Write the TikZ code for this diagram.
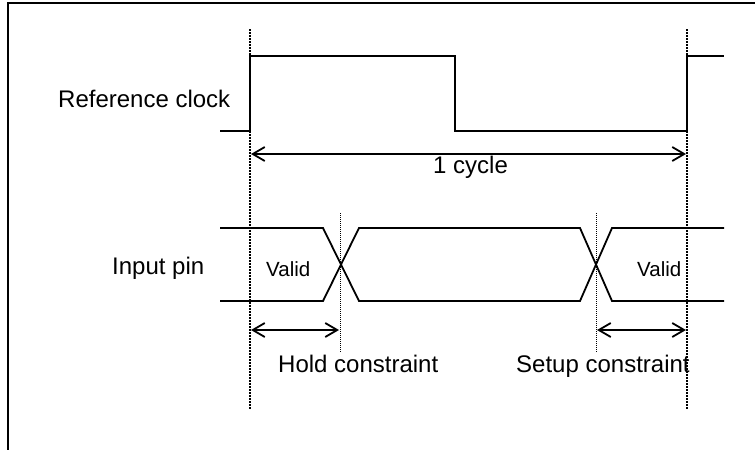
\documentclass[tikz,border=0pt]{standalone}
\usepackage{fontspec}
\setmainfont{Liberation Sans}
\usetikzlibrary{arrows.meta}
\begin{document}
\begin{tikzpicture}[x=1pt,y=-1pt,
  wave/.style={line width=1.8pt, line join=miter},
  frame/.style={line width=2pt},
  edge/.style={line width=1.9pt, dash pattern=on 1.5pt off 1.5pt},
  guide/.style={line width=1pt, dash pattern=on 1pt off 1pt},
  span/.style={line width=1.8pt, {Straight Barb[length=12pt,width=14pt,line width=1.8pt]}-{Straight Barb[length=12pt,width=14pt,line width=1.8pt]}},
  lbl/.style={inner sep=0pt, anchor=base west, font=\fontsize{24}{28}\selectfont},
  small/.style={inner sep=0pt, anchor=base west, font=\fontsize{20.5}{24}\selectfont}]
\useasboundingbox (0,0) rectangle (755,450);

% frame
\draw[frame] (755,3) -- (8,3) -- (8,450);

% clock edges (thick dotted) and transition guides (thin dotted)
\coordinate (e1t) at (250,29);  \coordinate (e1b) at (250,410);
\coordinate (e2t) at (687,29);  \coordinate (e2b) at (687,410);
\coordinate (g1t) at (340,213); \coordinate (g1b) at (340,352);
\coordinate (g2t) at (596,213); \coordinate (g2b) at (596,352);
\draw[edge] (e1t) -- (e1b);
\draw[edge] (e2t) -- (e2b);
\draw[guide] (g1t) -- (g1b);
\draw[guide] (g2t) -- (g2b);

% reference clock waveform
\draw[wave] (220,131) -- (250,131) -- (250,56) -- (455,56) -- (455,131)
  -- (687,131) -- (687,56) -- (724,56);
\node[lbl] (refclk) at (58,107) {Reference clock};

% one cycle span
\coordinate (c1) at (251,154);
\coordinate (c2) at (686,154);
\draw[span] (c1) -- (c2);
\node[lbl] (cyc) at (433,173) {1 cycle};

% input pin data eye
\draw[wave] (220,228) -- (323,228) -- (359,301) -- (580,301) -- (612,228) -- (724,228);
\draw[wave] (220,301) -- (323,301) -- (359,228) -- (580,228) -- (612,301) -- (724,301);
\node[lbl] (inpin) at (112,274) {Input pin};
\node[small] (v1) at (266,276) {Valid};
\node[small] (v2) at (637,276) {Valid};

% hold and setup spans
\coordinate (h1) at (251,330); \coordinate (h2) at (339,330);
\coordinate (s1) at (597,330); \coordinate (s2) at (686,330);
\draw[span] (h1) -- (h2);
\draw[span] (s1) -- (s2);
\node[lbl] (hold) at (278,372) {Hold constraint};
\node[lbl] (setup) at (516,372) {Setup constraint};
\end{tikzpicture}
\end{document}
